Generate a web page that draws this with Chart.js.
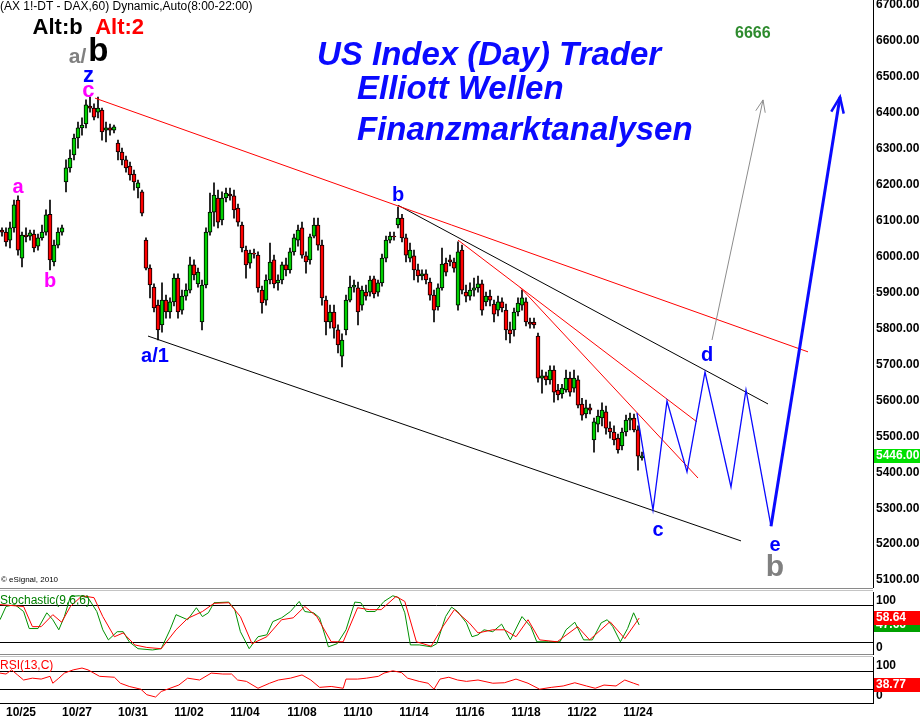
<!DOCTYPE html>
<html>
<head>
<meta charset="utf-8">
<title>DAX 60 - Elliott Wellen</title>
<script src="https://cdn.jsdelivr.net/npm/chart.js@4.4.1/dist/chart.umd.min.js"></script>
<style>
  html, body { margin: 0; padding: 0; background: #fff; }
  #wrap { position: relative; width: 920px; height: 723px; overflow: hidden; font-family: Arial, 'Liberation Sans', sans-serif; }
  #wrap canvas { position: absolute; left: 0; }
  .txt { position: absolute; white-space: nowrap; line-height: 1; }
  .hl { color: #0a0aff; font-size: 33px; font-weight: bold; font-style: italic; line-height: 33px; }
  .sep { position: absolute; left: 0; width: 873px; height: 1px; border-top: 1px solid #8a8a8a; border-bottom: 1px solid #c4c4c4; }
</style>
</head>
<body>
<div id="wrap">
  <canvas id="price-chart" width="920" height="588" style="top:0"></canvas>
  <canvas id="stoch-chart" width="920" height="63" style="top:592px"></canvas>
  <canvas id="rsi-chart" width="920" height="66" style="top:657px"></canvas>
  <div class="sep" style="top:588px"></div>
  <div class="sep" style="top:654px"></div>

  <div class="txt" style="left:0;top:0;font-size:12px;color:#000">(AX 1!-DT - DAX,60) Dynamic,Auto(8:00-22:00)</div>
  <div class="txt hl" style="left:317px;top:37px">US Index (Day) Trader</div>
  <div class="txt hl" style="left:357px;top:71px">Elliott Wellen</div>
  <div class="txt hl" style="left:357px;top:112px">Finanzmarktanalysen</div>
  <div class="txt" style="left:735px;top:25px;font-size:16px;font-weight:bold;color:#2e8b2e">6666</div>
  <div class="txt" style="left:1px;top:576px;font-size:8px;color:#000">© eSignal, 2010</div>
  <div class="txt" style="left:0;top:594px;font-size:12px;color:#008000">Stochastic(9,6,6)</div>
  <div class="txt" style="left:0;top:659px;font-size:12px;color:#ff0000">RSI(13,C)</div>
</div>

<script>
'use strict';

/* DATA — 2h candles [open, high, low, close], one per slot */
const candles = [
  [6074,6080,6057,6068],[6068,6080,6029,6041],[6046,6096,6024,6080],[6080,6157,6068,6144],
  [6157,6169,6004,6018],[5996,6068,5971,6060],[6060,6080,6041,6055],[6057,6074,6046,6066],
  [6063,6074,6013,6024],[6029,6063,6018,6052],[6052,6088,6046,6068],[6068,6130,6060,6116],
  [6118,6157,5963,5991],[5985,6046,5974,6032],[6032,6080,6024,6068],[6068,6088,6060,6080],
  [6208,6269,6180,6247],[6247,6297,6235,6274],[6283,6341,6269,6330],[6330,6374,6302,6358],
  [6358,6386,6338,6366],[6369,6436,6358,6422],[6419,6444,6402,6413],[6413,6425,6380,6388],
  [6402,6444,6386,6413],[6408,6413,6324,6347],[6352,6374,6319,6358],[6358,6369,6338,6352],
  [6352,6366,6344,6361],[6316,6324,6269,6291],[6291,6302,6255,6269],[6269,6280,6235,6247],
  [6252,6263,6213,6227],[6230,6241,6185,6208],[6191,6213,6163,6205],[6180,6185,6113,6121],
  [6046,6052,5963,5968],[5968,5977,5885,5921],[5915,5924,5846,5857],[5865,5879,5768,5796],
  [5810,5927,5790,5879],[5879,5893,5829,5846],[5846,5885,5829,5874],[5874,5952,5863,5940],
  [5940,5952,5829,5846],[5851,5907,5840,5890],[5890,5924,5879,5907],[5907,5999,5899,5977],
  [5977,5991,5935,5949],[5924,5968,5915,5957],[5818,5935,5796,5921],[5921,6080,5913,6068],
  [6068,6177,6060,6124],[6124,6205,6085,6171],[6163,6185,6080,6096],[6102,6180,6088,6163],
  [6163,6191,6152,6177],[6174,6191,6157,6169],[6169,6185,6107,6130],[6135,6146,6085,6096],
  [6088,6096,6013,6024],[6018,6029,5940,5977],[5982,6018,5968,6010],[6010,6021,5996,6007],
  [6004,6013,5901,5913],[5907,5918,5843,5871],[5879,5949,5865,5935],[5935,6038,5924,5985],
  [5991,6004,5913,5924],[5927,5949,5907,5935],[5935,5985,5924,5977],[5977,5996,5946,5963],
  [5963,6024,5954,6013],[6013,6063,6004,6052],[6046,6088,6029,6074],[6080,6096,5996,6004],
  [6002,6013,5954,5985],[5991,6063,5979,6055],[6057,6107,6052,6088],[6088,6107,6018,6032],
  [6032,6046,5865,5885],[5879,5890,5782,5818],[5818,5865,5801,5846],[5846,5865,5773,5801],
  [5796,5810,5732,5754],[5723,5785,5693,5768],[5796,5893,5782,5879],[5879,5946,5874,5915],
  [5915,5935,5901,5921],[5913,5929,5810,5846],[5865,5918,5851,5907],[5901,5921,5879,5890],
  [5901,5946,5890,5935],[5938,5946,5885,5896],[5901,5935,5890,5927],[5927,6007,5918,5996],
  [5996,6057,5985,6046],[6046,6068,6038,6057],[6057,6068,6046,6055],[6088,6138,6080,6107],
  [6107,6118,6041,6052],[6052,6063,5985,6004],[5996,6038,5985,6018],[6002,6018,5935,5963],
  [5963,5979,5929,5946],[5946,5963,5935,5952],[5952,5963,5924,5935],[5929,5940,5879,5893],
  [5893,5907,5818,5851],[5860,5924,5851,5913],[5913,6024,5907,5979],[5982,5996,5946,5957],
  [5991,6004,5974,5985],[5985,5996,5957,5968],[5865,6041,5851,6013],[6018,6032,5896,5907],
  [5901,5921,5874,5890],[5890,5927,5879,5907],[5907,5940,5890,5913],[5913,5946,5901,5924],
  [5924,5935,5837,5851],[5874,5901,5863,5890],[5890,5907,5863,5879],[5868,5879,5818,5840],
  [5851,5890,5835,5874],[5874,5885,5846,5857],[5851,5868,5768,5796],[5796,5818,5760,5785],
  [5796,5857,5779,5846],[5846,5885,5835,5871],[5865,5907,5851,5885],[5874,5885,5807,5818],
  [5818,5829,5801,5812],[5818,5829,5801,5810],[5779,5787,5651,5662],[5662,5684,5620,5668],
  [5668,5679,5643,5657],[5657,5696,5645,5684],[5684,5696,5595,5623],[5629,5645,5601,5615],
  [5618,5645,5606,5634],[5629,5684,5623,5662],[5662,5679,5612,5623],[5634,5684,5623,5662],
  [5657,5668,5579,5587],[5590,5606,5545,5559],[5562,5601,5551,5579],[5579,5590,5562,5573],
  [5490,5551,5456,5540],[5534,5573,5512,5556],[5551,5593,5529,5573],[5568,5584,5506,5523],
  [5523,5540,5495,5512],[5512,5529,5476,5490],[5495,5506,5453,5462],[5473,5523,5462,5512],
  [5512,5559,5501,5545],[5545,5565,5518,5551],[5551,5562,5512,5518],[5518,5529,5406,5445],
  [5440,5456,5434,5446]
];
const lastPrice = 5446;

const priceTicks = [5100,5200,5300,5400,5500,5600,5700,5800,5900,6000,6100,6200,6300,6400,6500,6600,6700];
const dateTicks  = [5.25, 19.25, 33.25, 47.25, 61.25, 75.5, 89.5, 103.5, 117.5, 131.5, 145.5, 159.5];
const dateLabels = ['10/25','10/27','10/31','11/02','11/04','11/08','11/10','11/14','11/16','11/18','11/22','11/24'];

/* Stochastic %K (green) and %D (red) */
const kX = [0,1.5,3.7,5.9,7.3,9.5,11.7,13.2,14.7,16.1,17.6,19.8,22,24.2,25.7,27.1,29.3,30.8,32.3,34.5,
  38.1,40.3,42.5,44,46.9,49.1,50.6,52.1,53.5,57.2,58.7,60.1,62.3,64.5,66.7,68.2,70.4,72.6,74.8,76.2,
  78.4,79.9,82.1,84.3,86.5,88.7,90.2,91.6,93.8,96,98.2,99.7,101.2,102.6,104.8,107.8,109.2,111.4,112.9,114.4,
  116.6,118,119.5,121,123.2,125.4,127.6,130.5,132.7,134.2,137.1,140,141.5,143.7,145.9,148.1,150.3,151.8,153.2,155.1,
  156.9,158.4,159.8];
const kVals = [56,77,80,69,42,42,67,56,40,61,93,94,91,69,40,24,37,37,21,10,
  8,10,40,64,56,75,61,67,83,84,72,37,10,29,32,53,59,69,85,69,
  67,59,13,18,40,84,83,69,69,85,94,91,67,16,16,13,18,61,76,69,
  51,29,32,40,37,49,24,61,45,21,21,21,40,52,24,24,51,56,45,21,
  42,67,47.66];
const dX = [0,5.9,8.1,10.3,13.2,15.4,17.6,20.5,23.5,25.7,28.6,30.8,33.7,36.7,40.3,44,46.9,50.6,53.5,57.2,
  60.1,63,66.7,70.4,73.3,76.2,79.2,82.8,85.8,89.4,92.4,95.3,99,101.2,104.1,107.8,110.7,113.6,117.3,119.5,
  123.2,126.1,129,132,134.9,139.3,144.4,147.4,152.5,156.2,159.8];
const dVals = [80,77,45,45,64,52,77,94,91,61,29,35,16,12,10,40,58,69,82,83,
  61,18,29,56,59,77,61,21,21,75,72,72,93,85,21,14,45,72,51,35,
  40,40,29,56,24,21,45,24,53,26,58.64];
const stochLevels = [20, 80];

/* RSI(13) */
const rsiX = [0,1.5,2.9,4.4,5.9,8.1,10.3,12.5,13.2,14.7,16.1,18.3,20.5,22,24.9,28.6,30.1,32.3,35.2,36.7,
  38.9,40.3,42.5,44.7,46.9,49.9,52.8,55.7,57.9,59.4,61.6,64.5,67.4,69.6,72.6,75.5,77.7,79.9,82.8,85.8,
  86.5,89.4,91.6,94.6,96,98.2,100.4,101.9,104.8,107,108.5,110,112.2,114.4,116.6,119.5,123.2,126.1,129,132,
  134.9,137.8,140.8,143.7,146.6,148.8,151,154,156.2,158.4,159.8];
const rsiVals = [65,63,72,61,50,54,52,58,43,54,65,72,76,72,58,56,43,36,30,18,
  13,25,32,39,54,50,65,63,63,50,47,32,43,50,54,61,50,34,36,32,
  52,52,54,58,65,70,66,54,47,43,30,52,56,50,47,50,43,44,52,43,
  30,34,37,44,37,32,39,37,50,43,38.77];
const rsiLevels = [30, 70];

/* Trend lines and wave projection (slot, price) */
const upperRedX = [23.75, 202],    upperRedY = [6441, 5735];
const lowerBlackX = [37, 185.25],  lowerBlackY = [5779, 5209];
const midBlackX = [99.5, 192],     midBlackY = [6143, 5590];
const fanAX = [114.5, 174.25],     fanAY = [6046, 5540];
const fanBX = [130, 174.5],        fanBY = [5915, 5384];
const waveX = [159.25, 163.25, 166.75, 171.75, 176.25, 182.75, 186.5, 192.75];
const waveY = [5565, 5295, 5598, 5401, 5679, 5359, 5629, 5250];
const breakoutX = [192.75, 210],   breakoutY = [5250, 6444];
const altX = [178, 190.75],        altY = [5768, 6436];

/* Wave count labels (slot, price) */
const waveLabels = [
  { t: 'Alt:b', x: 14.4, y: 6636, c: '#000000', s: 22 },
  { t: 'Alt:2', x: 29.9, y: 6636, c: '#ff0000', s: 22 },
  { t: 'a/',    x: 19.4, y: 6556, c: '#808080', s: 21 },
  { t: 'b',     x: 24.6, y: 6569, c: '#000000', s: 33 },
  { t: 'z',     x: 22.1, y: 6502, c: '#0000ff', s: 22 },
  { t: 'c',     x: 22.1, y: 6462, c: '#ff00ff', s: 22 },
  { t: 'a',     x: 4.5,  y: 6191, c: '#ff00ff', s: 20 },
  { t: 'b',     x: 12.5, y: 5932, c: '#ff00ff', s: 20 },
  { t: 'a/1',   x: 38.75, y: 5723, c: '#0000ff', s: 20 },
  { t: 'b',     x: 99.5, y: 6169, c: '#0000ff', s: 20 },
  { t: 'c',     x: 164.5, y: 5239, c: '#0000ff', s: 20 },
  { t: 'd',     x: 176.75, y: 5726, c: '#0000ff', s: 20 },
  { t: 'e',     x: 193.75, y: 5197, c: '#0000ff', s: 20 },
  { t: 'b',     x: 193.75, y: 5134, c: '#808080', s: 30 }
];

/* LAYOUT HELPERS */
const FONT = "Arial, 'Liberation Sans', sans-serif";
const X_MAX = 218.25;
const AXIS_W = 47;
const UP = '#00d000', DOWN = '#ff0000';

Chart.defaults.font.family = FONT;
Chart.defaults.animation = false;

const pts = (xs, ys) => xs.map((x, i) => ({ x, y: ys[i] }));
const fixY = s => { s.width = AXIS_W; s.paddingTop = 0; s.paddingBottom = 0; };
const lineSet = (xs, ys, color, width) => ({
  type: 'line', data: pts(xs, ys), borderColor: color, borderWidth: width,
  pointRadius: 0, tension: 0, fill: false
});
const baseOpts = {
  responsive: false, maintainAspectRatio: false, events: [],
  layout: { padding: 0 },
  plugins: { legend: { display: false }, tooltip: { enabled: false } }
};
const hiddenX = { type: 'linear', min: 0, max: X_MAX, offset: false, display: false };

function arrowHead(ctx, xs, ys, px, py, color, width, len) {
  const n = px.length;
  const x1 = xs.getPixelForValue(px[n - 2]), y1 = ys.getPixelForValue(py[n - 2]);
  const x2 = xs.getPixelForValue(px[n - 1]), y2 = ys.getPixelForValue(py[n - 1]);
  const a = Math.atan2(y2 - y1, x2 - x1);
  ctx.strokeStyle = color; ctx.lineWidth = width;
  ctx.beginPath();
  ctx.moveTo(x2 - len * Math.cos(a - 0.38), y2 - len * Math.sin(a - 0.38));
  ctx.lineTo(x2, y2);
  ctx.lineTo(x2 - len * Math.cos(a + 0.38), y2 - len * Math.sin(a + 0.38));
  ctx.stroke();
}

function valueBox(ctx, chart, value, bg) {
  const y = chart.scales.y.getPixelForValue(value);
  const left = chart.chartArea.right + 1;
  ctx.fillStyle = bg;
  ctx.fillRect(left, Math.round(y) - 7, 920 - left, 14);
  ctx.fillStyle = '#fff';
  ctx.font = 'bold 12px ' + FONT;
  ctx.textAlign = 'left'; ctx.textBaseline = 'middle';
  ctx.fillText(value.toFixed(2), left + 2, Math.round(y));
}

/* PRICE PANEL */
const priceOverlay = {
  id: 'priceOverlay',
  afterDatasetsDraw(chart) {
    const { ctx, scales: { x, y } } = chart;
    ctx.save();
    arrowHead(ctx, x, y, breakoutX, breakoutY, '#0a0aff', 2.5, 17);
    arrowHead(ctx, x, y, altX, altY, '#8c8c8c', 1, 13);
    ctx.textAlign = 'center'; ctx.textBaseline = 'middle';
    waveLabels.forEach(l => {
      ctx.font = 'bold ' + l.s + 'px ' + FONT;
      ctx.fillStyle = l.c;
      ctx.fillText(l.t, x.getPixelForValue(l.x), y.getPixelForValue(l.y));
    });
    ctx.restore();
  },
  afterDraw(chart) {
    const ctx = chart.ctx;
    ctx.save();
    valueBox(ctx, chart, lastPrice, '#00e000');
    ctx.restore();
  }
};

new Chart(document.getElementById('price-chart'), {
  type: 'bar',
  data: {
    datasets: [
      lineSet(breakoutX, breakoutY, '#0a0aff', 3),
      lineSet(waveX, waveY, '#0a0aff', 1.3),
      lineSet(altX, altY, '#8c8c8c', 1),
      lineSet(upperRedX, upperRedY, '#ff0000', 1),
      lineSet(midBlackX, midBlackY, '#000000', 1),
      lineSet(fanAX, fanAY, '#ff0000', 1),
      lineSet(fanBX, fanBY, '#ff0000', 1),
      lineSet(lowerBlackX, lowerBlackY, '#000000', 1),
      {
        data: candles.map((c, i) => ({ x: i + 0.5, y: [c[0], c[3]] })),
        backgroundColor: candles.map(c => c[3] >= c[0] ? UP : DOWN),
        borderColor: '#000', borderWidth: 1, borderSkipped: false,
        grouped: false, barPercentage: 1, categoryPercentage: 1, maxBarThickness: 4
      },
      {
        data: candles.map((c, i) => ({ x: i + 0.5, y: [c[2], c[1]] })),
        backgroundColor: '#000', borderWidth: 0,
        grouped: false, barPercentage: 1, categoryPercentage: 1, maxBarThickness: 1
      }
    ]
  },
  options: {
    ...baseOpts,
    scales: {
      x: hiddenX,
      y: {
        position: 'right', min: 5078, max: 6714,
        afterFit: fixY,
        afterBuildTicks: s => { s.ticks = priceTicks.map(v => ({ value: v })); },
        grid: { display: false, drawTicks: false },
        border: { display: true, color: '#000' },
        ticks: { color: '#000', padding: 3, autoSkip: false, font: { size: 12, weight: 'bold' }, callback: v => v.toFixed(2) }
      }
    }
  },
  plugins: [priceOverlay]
});

/* OSCILLATOR PANELS */
function panelOverlay(levels, boxes) {
  return {
    id: 'panelOverlay',
    beforeDatasetsDraw(chart) {
      const { ctx, chartArea: a, scales: { y } } = chart;
      ctx.save();
      ctx.strokeStyle = '#000'; ctx.lineWidth = 1;
      levels.forEach(v => {
        const py = Math.round(y.getPixelForValue(v)) + 0.5;
        ctx.beginPath(); ctx.moveTo(a.left, py); ctx.lineTo(a.right, py); ctx.stroke();
      });
      ctx.restore();
    },
    afterDraw(chart) {
      const { ctx, chartArea: a } = chart;
      ctx.save();
      ctx.fillStyle = '#000';
      ctx.font = 'bold 12px ' + FONT;
      ctx.textAlign = 'left'; ctx.textBaseline = 'middle';
      ctx.fillText('100', a.right + 3, a.top + 9);
      ctx.fillText('0', a.right + 3, a.bottom - 7);
      boxes.forEach(b => valueBox(ctx, chart, b.v, b.c));
      ctx.restore();
    }
  };
}

const oscY = (extra) => Object.assign({
  position: 'right', min: 0, max: 100, afterFit: fixY,
  grid: { display: false, drawTicks: false },
  border: { display: true, color: '#000' },
  ticks: { display: false }
}, extra);

new Chart(document.getElementById('stoch-chart'), {
  type: 'line',
  data: {
    datasets: [
      { data: pts(dX, dVals), borderColor: '#ff0000', borderWidth: 1, pointRadius: 0, tension: 0 },
      { data: pts(kX, kVals), borderColor: '#009000', borderWidth: 1, pointRadius: 0, tension: 0 }
    ]
  },
  options: { ...baseOpts, scales: { x: hiddenX, y: oscY() } },
  plugins: [panelOverlay(stochLevels, [{ v: kVals[kVals.length - 1], c: '#00a000' }, { v: dVals[dVals.length - 1], c: '#ff0000' }])]
});

new Chart(document.getElementById('rsi-chart'), {
  type: 'line',
  data: {
    datasets: [
      { data: pts(rsiX, rsiVals), borderColor: '#ff0000', borderWidth: 1, pointRadius: 0, tension: 0 }
    ]
  },
  options: {
    ...baseOpts,
    scales: {
      x: {
        type: 'linear', min: 0, max: X_MAX, offset: false,
        afterBuildTicks: s => { s.ticks = dateTicks.map(v => ({ value: v })); },
        afterFit: s => { s.height = 20; s.paddingLeft = 0; s.paddingRight = 0; },
        grid: { display: false, drawTicks: false },
        border: { display: true, color: '#000' },
        ticks: { autoSkip: false, maxRotation: 0, padding: 2, color: '#000', font: { size: 12, weight: 'bold' },
          callback: (v, i) => dateLabels[i] }
      },
      y: oscY()
    }
  },
  plugins: [panelOverlay(rsiLevels, [{ v: rsiVals[rsiVals.length - 1], c: '#ff0000' }])]
});
</script>
</body>
</html>
